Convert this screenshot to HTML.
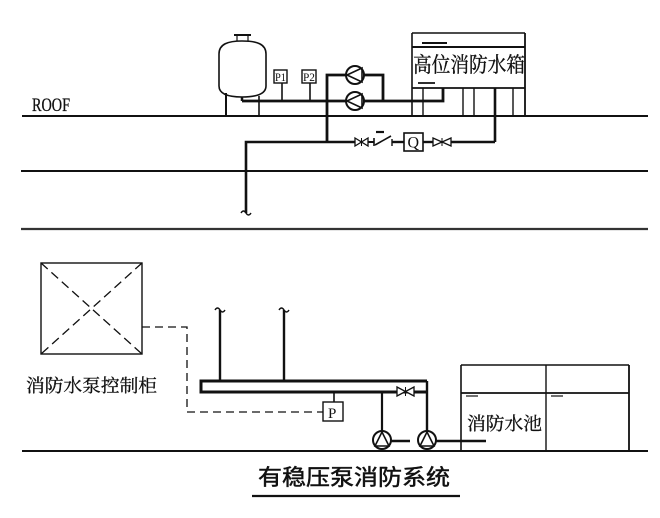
<!DOCTYPE html>
<html>
<head>
<meta charset="utf-8">
<style>
html,body{margin:0;padding:0;background:#fff;}
svg{display:block;}
.serif{font-family:"Liberation Serif","Noto Serif CJK SC",serif;}
.sans{font-family:"Liberation Sans","Noto Sans CJK SC",sans-serif;}
</style>
</head>
<body>
<svg width="660" height="518" viewBox="0 0 660 518" xmlns="http://www.w3.org/2000/svg">
<rect width="660" height="518" fill="#fff"/>
<g stroke="#111" fill="none" stroke-linecap="butt">
  <!-- floor lines -->
  <line x1="22" y1="116" x2="648" y2="116" stroke-width="2"/>
  <line x1="21" y1="171" x2="648" y2="171" stroke-width="2"/>
  <line x1="21" y1="229" x2="648" y2="229" stroke-width="2.2" stroke="#333"/>
  <line x1="22" y1="451" x2="648" y2="451" stroke-width="2"/>

  <!-- pressure vessel -->
  <path d="M219,54 C219,44 228,41 242,41 C257,41 266,44 266,54 L266,86 C266,94 257,97 242,97 C228,97 219,94 219,86 Z" stroke-width="1.6"/>
  <line x1="234" y1="35" x2="251" y2="35" stroke-width="2"/>
  <line x1="237" y1="35" x2="237" y2="41" stroke-width="1.2"/>
  <line x1="248" y1="35" x2="248" y2="41" stroke-width="1.2"/>
  <line x1="226" y1="93" x2="226" y2="116" stroke-width="2"/>
  <line x1="259" y1="96" x2="259" y2="116" stroke-width="1.6"/>
  <line x1="242" y1="97" x2="242" y2="101" stroke-width="2.5"/>

  <!-- main pipe from vessel -->
  <polyline points="242,101 443,101 443,88" stroke-width="2.8"/>
  <!-- gauges -->
  <rect x="274" y="70" width="13" height="13" stroke-width="1.4" fill="#fff"/>
  <line x1="282" y1="83" x2="282" y2="101" stroke-width="1.6"/>
  <rect x="302" y="70" width="14" height="13" stroke-width="1.4" fill="#fff"/>
  <line x1="310" y1="83" x2="310" y2="101" stroke-width="1.6"/>

  <!-- bypass and pumps top -->
  <polyline points="327,142 327,75 346,75" stroke-width="2.8"/>
  <polyline points="364,75 383,75 383,101" stroke-width="2.8"/>
  <circle cx="355" cy="75" r="9" stroke-width="2" fill="#fff"/>
  <path d="M347,75 L362,68 L362,82 Z" stroke-width="1.6"/>
  <circle cx="355" cy="101" r="9" stroke-width="2" fill="#fff"/>
  <path d="M347,101 L362,94 L362,108 Z" stroke-width="1.6"/>

  <!-- high tank -->
  <line x1="412" y1="33" x2="525" y2="33" stroke-width="1.4"/>
  <line x1="412" y1="33" x2="412" y2="116" stroke-width="1.6"/>
  <line x1="525" y1="33" x2="525" y2="116" stroke-width="1.8"/>
  <line x1="422" y1="43" x2="447" y2="43" stroke-width="2"/>
  <line x1="412" y1="47" x2="525" y2="47" stroke-width="2"/>
  <line x1="418" y1="83" x2="435" y2="83" stroke-width="1.8"/>
  <line x1="412" y1="88" x2="525" y2="88" stroke-width="1.8"/>
  <line x1="423" y1="88" x2="423" y2="116" stroke-width="1.4"/>
  <line x1="463" y1="88" x2="463" y2="116" stroke-width="1.4"/>
  <line x1="474" y1="88" x2="474" y2="116" stroke-width="1.4"/>
  <line x1="513" y1="88" x2="513" y2="116" stroke-width="1.4"/>
  <line x1="495" y1="88" x2="495" y2="142" stroke-width="2.6"/>

  <!-- lower top pipe with valves -->
  <polyline points="246,213 246,142 355,142" stroke-width="2.6"/>
  <path d="M241,213 q2.5,-4 5,0 q2.5,4 5,0" stroke-width="1.4"/>
  <path d="M355,138 L361.5,142 L355,146 Z M368,138 L361.5,142 L368,146 Z" stroke-width="1.3" fill="#fff"/>
  <line x1="361.5" y1="138" x2="361.5" y2="146" stroke-width="1"/>
  <line x1="368" y1="142" x2="374" y2="142" stroke-width="2"/>
  <line x1="374" y1="138" x2="374" y2="146" stroke-width="1.6"/>
  <line x1="375" y1="145" x2="391" y2="136" stroke-width="1.6"/>
  <line x1="376" y1="132" x2="384" y2="132" stroke-width="2.2"/>
  <line x1="392" y1="139" x2="392" y2="146" stroke-width="1.4"/>
  <line x1="392" y1="142" x2="404" y2="142" stroke-width="2.4"/>
  <rect x="404" y="133" width="19" height="18" stroke-width="1.6" fill="#fff"/>
  <line x1="423" y1="142" x2="433" y2="142" stroke-width="2.4"/>
  <path d="M433,138 L442,142 L433,146 Z M451,138 L442,142 L451,146 Z" stroke-width="1.3" fill="#fff"/>
  <line x1="442" y1="138" x2="442" y2="146" stroke-width="1"/>
  <line x1="451" y1="142" x2="495" y2="142" stroke-width="2.6"/>

  <!-- control cabinet -->
  <rect x="41" y="263" width="101" height="91" stroke-width="1.4"/>
  <line x1="41" y1="263" x2="142" y2="354" stroke-width="1.3" stroke-dasharray="9,5"/>
  <line x1="142" y1="263" x2="41" y2="354" stroke-width="1.3" stroke-dasharray="9,5"/>
  <polyline points="142,327 187,327 187,412 323,412" stroke-width="1.3" stroke-dasharray="8,5"/>

  <!-- header -->
  <polyline points="427,381 201,381 201,392 427,392" stroke-width="3"/>
  <line x1="220" y1="310" x2="220" y2="381" stroke-width="2.4"/>
  <path d="M215,310 q2.5,-4 5,0 q2.5,4 5,0" stroke-width="1.4"/>
  <line x1="284" y1="310" x2="284" y2="381" stroke-width="2.4"/>
  <path d="M279,310 q2.5,-4 5,0 q2.5,4 5,0" stroke-width="1.4"/>
  <line x1="334" y1="392" x2="334" y2="402" stroke-width="1.6"/>
  <rect x="323" y="402" width="20" height="19" stroke-width="1.4" fill="#fff"/>
  <path d="M397,387 L405.5,391.5 L397,396 Z M414,387 L405.5,391.5 L414,396 Z" stroke-width="1.3" fill="#fff"/>
  <line x1="405.5" y1="387" x2="405.5" y2="396" stroke-width="1"/>
  <line x1="427" y1="381" x2="427" y2="431" stroke-width="2.4"/>
  <line x1="382" y1="392" x2="382" y2="431" stroke-width="2.2"/>

  <!-- bottom pumps -->
  <circle cx="382" cy="440" r="9" stroke-width="2" fill="#fff"/>
  <path d="M382,432 L375,446 L389,446 Z" stroke-width="1.6"/>
  <circle cx="427" cy="440" r="9" stroke-width="2" fill="#fff"/>
  <path d="M427,432 L420,446 L434,446 Z" stroke-width="1.6"/>
  <line x1="391" y1="441" x2="410" y2="441" stroke-width="2.6"/>
  <line x1="436" y1="441" x2="486" y2="441" stroke-width="2.6"/>

  <!-- pool -->
  <line x1="461" y1="365" x2="629" y2="365" stroke-width="1.4"/>
  <line x1="461" y1="365" x2="461" y2="451" stroke-width="1.6"/>
  <line x1="546" y1="365" x2="546" y2="451" stroke-width="1.4"/>
  <line x1="629" y1="365" x2="629" y2="451" stroke-width="1.8"/>
  <line x1="461" y1="393" x2="629" y2="393" stroke-width="1.8"/>
  <line x1="466" y1="396" x2="478" y2="396" stroke-width="1.2"/>
  <line x1="551" y1="396" x2="563" y2="396" stroke-width="1.2"/>

  <!-- title underline -->
  <line x1="252" y1="496" x2="460" y2="496" stroke-width="2.2"/>
</g>

<g fill="#111">
  <text x="32" y="111" class="serif" font-size="19" textLength="38" lengthAdjust="spacingAndGlyphs" stroke="#111" stroke-width="0.3">ROOF</text>
  <text x="275" y="81" class="serif" font-size="12" textLength="11" lengthAdjust="spacingAndGlyphs">P1</text>
  <text x="303" y="81" class="serif" font-size="12" textLength="12" lengthAdjust="spacingAndGlyphs">P2</text>
  <text x="407.5" y="147.5" class="serif" font-size="16">Q</text>
  <text x="328" y="418" class="serif" font-size="15">P</text>
  <text x="413" y="72" class="serif" font-size="21" textLength="112" lengthAdjust="spacingAndGlyphs" stroke="#111" stroke-width="0.35">高位消防水箱</text>
  <text x="26" y="392" class="serif" font-size="18" textLength="131" lengthAdjust="spacingAndGlyphs" stroke="#111" stroke-width="0.3">消防水泵控制柜</text>
  <text x="467" y="430" class="serif" font-size="18" textLength="75" lengthAdjust="spacingAndGlyphs" stroke="#111" stroke-width="0.3">消防水池</text>
  <text x="258" y="485" class="sans" font-size="22" textLength="192" lengthAdjust="spacingAndGlyphs" stroke="#111" stroke-width="0.5">有稳压泵消防系统</text>
</g>
</svg>
</body>
</html>
